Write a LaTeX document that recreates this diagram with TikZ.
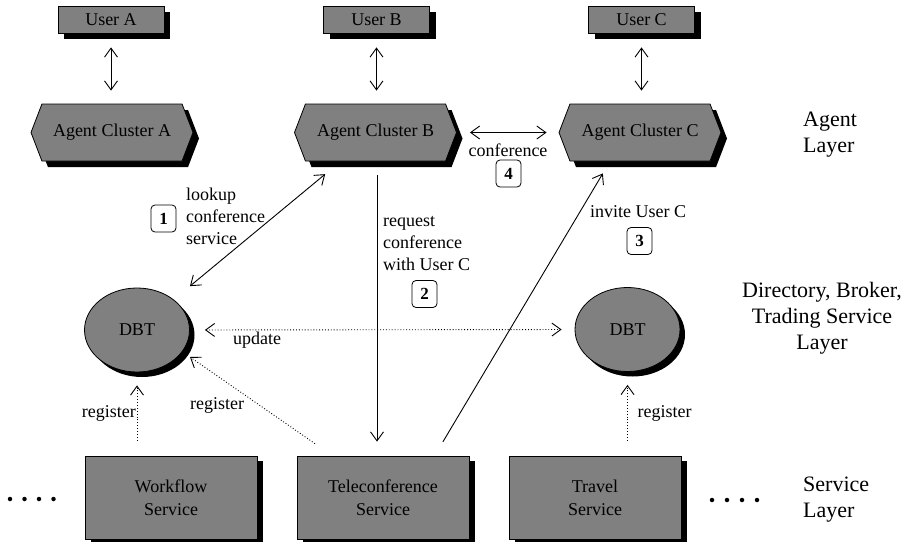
\documentclass[tikz,border=0pt]{standalone}
\usepackage{fontspec}
\setmainfont{Liberation Serif}
\usetikzlibrary{shapes.geometric,shapes.symbols,shadows,arrows.meta,calc}
\definecolor{shadegray}{RGB}{128,128,128}
\tikzset{barbtip/.tip={Straight Barb[length=9pt, width=13pt, line width=0.9pt]}}
\begin{document}
\begin{tikzpicture}[x=1pt,y=-1pt,
  every node/.style={font=\fontsize{18}{22}\selectfont},
  shaded/.style={fill=shadegray, draw=black, line width=0.8pt,
    drop shadow={shadow xshift=6pt, shadow yshift=-6pt, fill=black, opacity=1}},
  userbox/.style={shaded, rectangle, minimum width=106pt, minimum height=27pt, inner sep=0pt},
  agentbox/.style={shaded, signal, signal to=west and east, signal pointer angle=138,
    minimum width=162pt, minimum height=57pt, inner sep=0pt},
  dbtnode/.style={fill=shadegray, draw=black, line width=0.8pt, ellipse,
    drop shadow={shadow xshift=5pt, shadow yshift=-5pt, fill=black, opacity=1},
    minimum width=105pt, minimum height=84pt, inner sep=0pt},
  servicebox/.style={fill=shadegray, draw=black, line width=0.8pt, rectangle,
    drop shadow={shadow xshift=6pt, shadow yshift=-5pt, fill=black, opacity=1},
    minimum width=172pt, minimum height=83pt, inner sep=0pt, align=center,
    font=\fontsize{18}{23}\selectfont},
  stepnum/.style={draw=black, line width=0.8pt, rounded corners=4pt, minimum width=25pt,
    minimum height=27pt, inner sep=0pt, font=\fontsize{17}{20}\selectfont\bfseries},
  flow/.style={line width=0.9pt, -{barbtip}},
  twoway/.style={line width=0.9pt, {barbtip}-{barbtip}},
  dotflow/.style={line width=0.9pt, dotted, -{barbtip}},
  dottwoway/.style={line width=0.9pt, dotted, {barbtip}-{barbtip}},
  lbl/.style={inner sep=0pt, align=left},
  layerlbl/.style={inner sep=0pt, font=\fontsize{22}{26}\selectfont},
  dot/.style={fill=black, circle, inner sep=0pt, minimum size=4.5pt}
]
\useasboundingbox (0,0) rectangle (907,541);

% users
\node[userbox] (ua) at (111,19.5) {User A};
\node[userbox] (ub) at (376.5,19.5) {User B};
\node[userbox] (uc) at (641.5,19.5) {User C};

% agent clusters
\node[agentbox] (aa) at (112,132.5) {Agent Cluster A};
\node[agentbox] (ab) at (375.5,132.5) {Agent Cluster B};
\node[agentbox] (ac) at (640,132.5) {Agent Cluster C};

% directory / broker / trading nodes
\node[dbtnode] (da) at (137,330) {DBT};
\node[dbtnode] (dc) at (627.5,329.5) {DBT};

% services
\node[servicebox] (wf) at (171,497.5) {Workflow\\Service};
\node[servicebox] (tc) at (383,497.5) {Teleconference\\Service};
\node[servicebox] (tv) at (595,497.5) {Travel\\Service};

% user <-> agent
\draw[twoway, shorten <=14pt, shorten >=13pt] (ua.south) -- (ua.south |- aa.north);
\draw[twoway, shorten <=14pt, shorten >=13pt] (ub.south) -- (ub.south |- ab.north);
\draw[twoway, shorten <=14pt, shorten >=13pt] (uc.south) -- (uc.south |- ac.north);

% step 4: conference
\draw[twoway, shorten <=13pt, shorten >=12pt] (ab.east) -- (ac.west);
\node[lbl] (lconf) at (508,150) {conference};
\node[stepnum] (n4) at (508.5,173.5) {4};

% step 1: lookup
\draw[twoway, shorten <=20pt, shorten >=21pt] (ab) -- (da);
\node[lbl, anchor=west] (llook) at (186,216) {lookup\\conference\\service};
\node[stepnum] (n1) at (163.5,218.5) {1};

% step 2: request
\draw[flow, shorten <=14pt, shorten >=14pt] ([xshift=1.5pt]ab.south) -- ([xshift=1.5pt]ab.south |- tc.north);
\node[lbl, anchor=west] (lreq) at (383,244) {request\\conference\\with User C};
\node[stepnum] (n2) at (424.5,294) {2};

% step 3: invite
\draw[flow, shorten <=16pt, shorten >=14pt] ([xshift=51.7pt]tc.north) -- ([xshift=-30pt]ac.south);
\node[lbl, anchor=west] (linv) at (590,212) {invite User C};
\node[stepnum] (n3) at (639.5,241) {3};

% update between DBTs
\draw[dottwoway, shorten <=15pt, shorten >=13pt] (da.east) -- (dc.west);
\node[lbl] (lupd) at (257,340) {update};

% register links
\draw[dotflow, shorten <=15pt, shorten >=13pt] (da.south |- wf.north) -- (da.south);
\node[lbl, anchor=east] (lreg1) at (136,413) {register};
\draw[dotflow, shorten <=21pt] ([xshift=35.6pt]tc.north west) -- ($(da.center)+(53,27)$);
\node[lbl] (lreg2) at (217,405) {register};
\draw[dotflow, shorten <=15pt, shorten >=13pt] (dc.south |- tv.north) -- (dc.south);
\node[lbl] (lreg3) at (664.5,413) {register};

% continuation dots
\foreach \x [count=\i] in {10,24.5,39,53.5} \node[dot] (ld\i) at (\x,499) {};
\foreach \x [count=\i] in {712,727,742,757} \node[dot] (rd\i) at (\x,500) {};

% layer captions
\node[layerlbl, align=left, anchor=west] (lagent) at (803,135) {Agent\\Layer};
\node[layerlbl, align=center] (ldbt) at (822,318) {Directory, Broker,\\Trading Service\\Layer};
\node[layerlbl, align=left, anchor=west] (lserv) at (803,500) {Service\\Layer};
\end{tikzpicture}
\end{document}
